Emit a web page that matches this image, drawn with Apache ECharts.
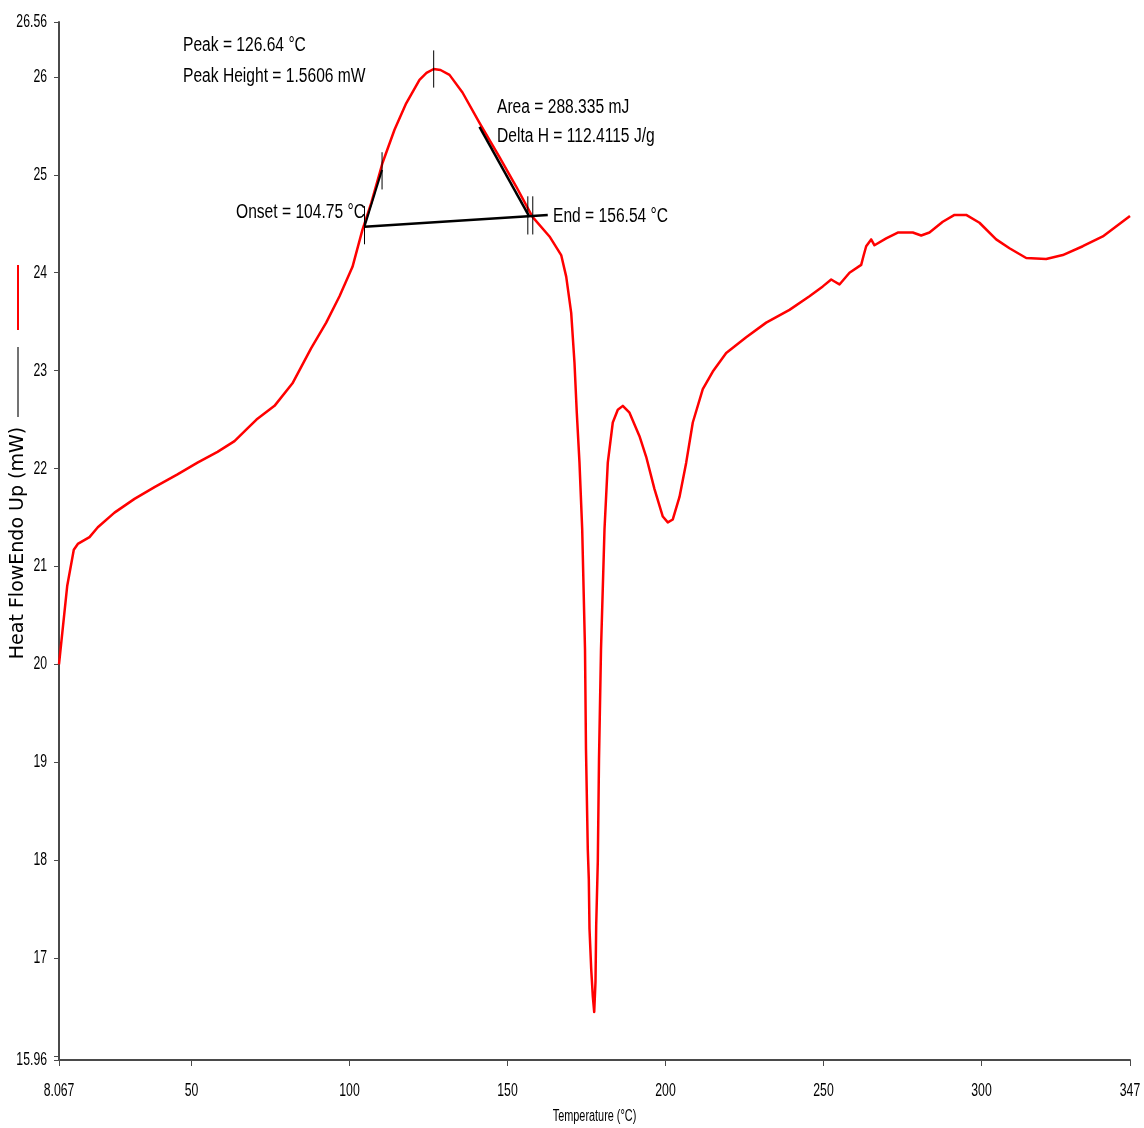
<!DOCTYPE html>
<html>
<head>
<meta charset="utf-8">
<title>DSC Heat Flow</title>
<script src="https://cdn.jsdelivr.net/npm/echarts@6/dist/echarts.min.js"></script>
<style>
  html, body { margin: 0; padding: 0; background: #fff; }
  #chart { width: 1144px; height: 1128px; }
</style>
</head>
<body>
<div id="chart"></div>
<script>
// DSC scan: temperature (°C) vs heat flow (mW), endo up
const tempC = [
  8.067, 10.66, 12.75, 14.02, 17.72, 20.35, 25.63, 31.96, 38.29, 45.57,
  51.90, 58.23, 63.61, 67.72, 70.57, 76.27, 81.96, 87.88, 92.63, 96.84,
  100.95, 104.11, 106.87, 110.44, 114.24, 117.94, 122.15, 124.37, 126.64, 128.8,
  131.65, 135.76,
  141.14, 147.47, 152.75, 157.91, 163.29, 166.99, 168.58, 170.16, 171.20, 171.93,
  172.78, 173.64, 174.53, 174.84, 175.41, 175.73, 175.95, 176.49, 177.00, 177.44,
  177.85, 178.07, 178.58, 178.96, 179.59, 180.70, 181.74, 183.32, 184.91, 186.49,
  188.61, 191.77, 193.89, 196.52, 199.15, 200.73, 202.31, 204.43, 206.55, 208.64,
  211.80, 214.97, 219.21, 225.54, 231.87, 239.24, 245.57, 249.78, 252.44, 253.48,
  255.06, 258.23, 261.93, 262.66, 263.51, 265.09, 266.14, 269.84, 273.51, 278.26,
  280.92, 283.54, 287.75, 291.46, 295.16, 299.37, 304.65, 308.86, 314.15, 320.47,
  325.73, 332.06, 338.39, 347.0
];
const heatFlow = [
  20.00, 20.80, 21.17, 21.23, 21.30, 21.40, 21.55, 21.69, 21.81, 21.94,
  22.06, 22.17, 22.28, 22.41, 22.50, 22.64, 22.87, 23.23, 23.49, 23.76,
  24.06, 24.44, 24.71, 25.12, 25.46, 25.73, 25.97, 26.04, 26.08, 26.07,
  26.02, 25.84,
  25.53, 25.18, 24.88, 24.57, 24.37, 24.18, 23.96, 23.59, 23.08, 22.57,
  22.06, 21.38, 20.15, 19.13, 18.11, 17.81, 17.30, 16.89, 16.61, 16.45,
  16.76, 17.33, 17.99, 19.03, 20.15, 21.38, 22.06, 22.47, 22.60, 22.64,
  22.57, 22.33, 22.12, 21.79, 21.51, 21.45, 21.48, 21.71, 22.06, 22.47,
  22.81, 22.99, 23.18, 23.34, 23.49, 23.62, 23.76, 23.86, 23.93, 23.91,
  23.88, 24.00, 24.08, 24.17, 24.27, 24.34, 24.28, 24.35, 24.41, 24.41,
  24.38, 24.41, 24.52, 24.59, 24.59, 24.51, 24.34, 24.25, 24.15, 24.14,
  24.18, 24.27, 24.37, 24.58
];

// Peak analysis construction: baseline, tangents and marker ticks
const baselinePts = [[104.75, 24.47], [162.75, 24.59]];
const onsetTangentPts = [[104.75, 24.47], [110.3, 25.05]];
const endTangentPts = [[141.14, 25.49], [156.96, 24.57]];
const onsetTick = [[104.75, 24.68], [104.75, 24.29]];
const onsetTangentTick = [[110.3, 25.23], [110.3, 24.85]];
const peakTick = [[126.64, 26.27], [126.64, 25.89]];
const endTickA = [[156.43, 24.78], [156.43, 24.39]];
const endTickB = [[158.0, 24.78], [158.0, 24.39]];

// Axis ticks and labels
const X_MIN = 8.067, X_MAX = 347, Y_MIN = 15.96, Y_MAX = 26.56;
const xTickValues = [8.067, 50, 100, 150, 200, 250, 300, 347];
const yTickValues = [15.96, 16, 17, 18, 19, 20, 21, 22, 23, 24, 25, 26, 26.56];
const yLabelValues = [15.96, 17, 18, 19, 20, 21, 22, 23, 24, 25, 26, 26.56];
const xTitle = 'Temperature (°C)';
const yTitle = 'Heat FlowEndo Up (mW)';

// Result texts
const peakText = ['Peak = 126.64 °C', 'Peak Height = 1.5606 mW'];
const areaText = ['Area = 288.335 mJ', 'Delta H = 112.4115 J/g'];
const onsetText = 'Onset = 104.75 °C';
const endText = 'End = 156.54 °C';

const SANS = '"Liberation Sans", Arial, sans-serif';
const AXIS_COLOR = '#4a4a4a';

const zipPts = (xs, ys) => xs.map((x, i) => [x, ys[i]]);

function annot(pts, width) {
  return {
    type: 'line', data: pts, showSymbol: false, symbol: 'none',
    lineStyle: { color: '#000', width: width }, z: 5, silent: true
  };
}

// condensed text: a regular sans face squeezed horizontally
function narrowText(text, x, y, size, squeeze, align, vAlign) {
  return {
    type: 'text', x: x, y: y, scaleX: squeeze, z: 10, silent: true,
    style: {
      text: text, fill: '#000', fontSize: size, fontFamily: SANS,
      align: align, verticalAlign: vAlign,
      textAlign: align, textVerticalAlign: vAlign
    }
  };
}

const chart = echarts.init(document.getElementById('chart'), null, { renderer: 'canvas' });
chart.setOption({
  backgroundColor: '#fff',
  animation: false,
  grid: { left: 59, right: 14, top: 22, bottom: 68, outerBoundsMode: 'none' },
  xAxis: {
    type: 'value', min: X_MIN, max: X_MAX,
    axisLine: { show: true, onZero: false, lineStyle: { color: AXIS_COLOR, width: 2 } },
    axisTick: { show: true, customValues: xTickValues, length: 6, lineStyle: { color: AXIS_COLOR, width: 1 } },
    axisLabel: { show: false },
    splitLine: { show: false }
  },
  yAxis: {
    type: 'value', min: Y_MIN, max: Y_MAX,
    axisLine: { show: true, onZero: false, lineStyle: { color: AXIS_COLOR, width: 2 } },
    axisTick: { show: true, customValues: yTickValues, length: 5, lineStyle: { color: AXIS_COLOR, width: 1 } },
    axisLabel: { show: false },
    splitLine: { show: false }
  },
  series: [
    {
      type: 'line', data: zipPts(tempC, heatFlow), showSymbol: false, symbol: 'none',
      smooth: false,
      lineStyle: { color: '#ff0000', width: 2.5, join: 'round' }, z: 3, silent: true
    },
    annot(baselinePts, 2.5),
    annot(onsetTangentPts, 2),
    annot(endTangentPts, 2.5),
    annot(onsetTick, 1),
    annot(onsetTangentTick, 1),
    annot(peakTick, 1),
    annot(endTickA, 1),
    annot(endTickB, 1)
  ]
});

// Tick labels and titles placed through the axis scales
const toPx = (x, y) => chart.convertToPixel({ gridIndex: 0 }, [x, y]);
const [axisLeft, axisBottom] = toPx(X_MIN, Y_MIN);
const [axisRight, axisTop] = toPx(X_MAX, Y_MAX);
const texts = [];
xTickValues.forEach(v => {
  texts.push(narrowText(String(v), toPx(v, Y_MIN)[0], axisBottom + 31, 18, 0.68, 'center', 'middle'));
});
yLabelValues.forEach(v => {
  texts.push(narrowText(String(v), axisLeft - 12, toPx(X_MIN, v)[1], 18, 0.68, 'right', 'middle'));
});
texts.push(narrowText(xTitle, (axisLeft + axisRight) / 2, axisBottom + 57, 16, 0.68, 'center', 'middle'));
texts.push({
  type: 'text', x: axisLeft - 41, y: (axisTop + axisBottom) / 2 + 2, rotation: Math.PI / 2, z: 10, silent: true,
  style: {
    text: yTitle, fill: '#000', fontSize: 19, fontFamily: '"DejaVu Sans", sans-serif',
    align: 'center', verticalAlign: 'middle', textAlign: 'center', textVerticalAlign: 'middle'
  }
});

chart.setOption({
  graphic: texts.concat([
    narrowText(peakText[0], 183, 45, 20, 0.78, 'left', 'middle'),
    narrowText(peakText[1], 183, 76, 20, 0.78, 'left', 'middle'),
    narrowText(areaText[0], 497, 107, 20, 0.78, 'left', 'middle'),
    narrowText(areaText[1], 497, 136, 20, 0.78, 'left', 'middle'),
    narrowText(onsetText, 236, 212, 20, 0.78, 'left', 'middle'),
    narrowText(endText, 553, 216, 20, 0.78, 'left', 'middle'),
    // series key beside the vertical axis title
    { type: 'line', shape: { x1: 18, y1: 265, x2: 18, y2: 330 }, style: { stroke: '#ff0000', lineWidth: 2 }, silent: true },
    { type: 'line', shape: { x1: 18, y1: 347, x2: 18, y2: 417 }, style: { stroke: '#444', lineWidth: 1.5 }, silent: true }
  ])
});
</script>
</body>
</html>
